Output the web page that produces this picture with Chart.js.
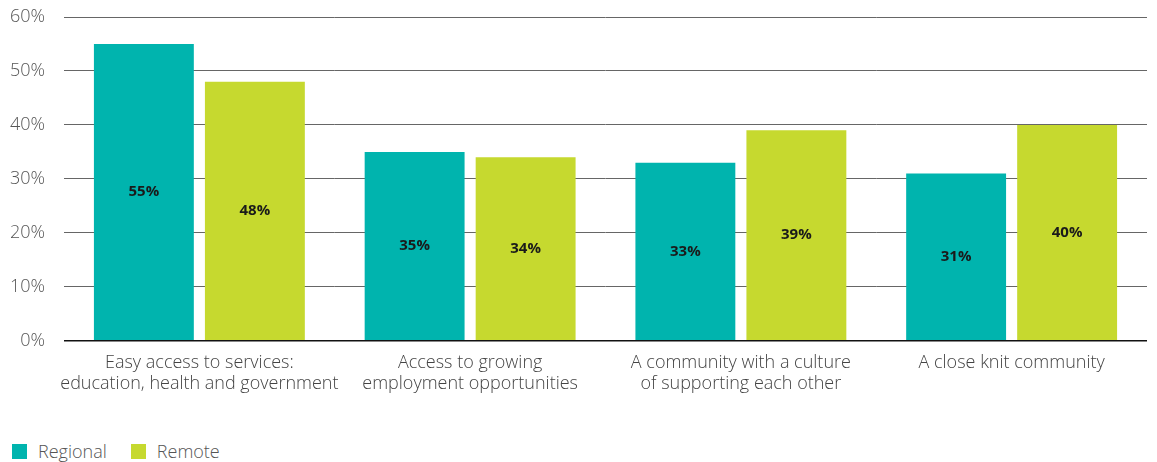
<!DOCTYPE html>
<html>
<head>
<meta charset="utf-8">
<script src="https://cdn.jsdelivr.net/npm/chart.js@4/dist/chart.umd.min.js"></script>
<style>
  html, body { margin: 0; padding: 0; background: #fff; }
  #wrap { width: 1157px; height: 462px; position: relative; font-family: 'Open Sans', sans-serif; }
  #box { position: absolute; left: 0; top: 0; width: 1157px; height: 406px; }
  #legend { position: absolute; left: 12px; top: 439px; display: flex; align-items: center; font-size: 18px; font-weight: 300; color: #555; }
  #legend span.sw { display: inline-block; width: 15px; height: 15px; margin-right: 11px; }
  #legend span.item { display: flex; align-items: center; margin-right: 24px; }
</style>
</head>
<body>
<div id="wrap">
  <div id="box"><canvas id="chart"></canvas></div>
  <div id="legend"></div>
</div>
<script>
const categories = [
  ["Easy access to services:", "education, health and government"],
  ["Access to growing", "employment opportunities"],
  ["A community with a culture", "of supporting each other"],
  ["A close knit community"]
];
const seriesNames = ["Regional", "Remote"];
const regional = [55, 35, 33, 31];
const remote = [48, 34, 39, 40];
const yTicks = [0, 10, 20, 30, 40, 50, 60];
const colors = ["#00b4ae", "#c6d92f"];

// writes the value in the middle of each bar
const barValues = {
  id: "barValues",
  afterDatasetsDraw(chart) {
    const ctx = chart.ctx;
    ctx.save();
    ctx.font = "bold 15px 'Open Sans'";
    ctx.fillStyle = "#1a1a1a";
    ctx.textAlign = "center";
    ctx.textBaseline = "middle";
    chart.data.datasets.forEach((ds, i) => {
      chart.getDatasetMeta(i).data.forEach((bar, j) => {
        const y = (bar.y + bar.base) / 2;
        ctx.fillText(ds.data[j] + "%", bar.x, y);
      });
    });
    ctx.restore();
  }
};

const ctx = document.getElementById("chart").getContext("2d");

const chart = new Chart(ctx, {
  type: "bar",
  data: {
    labels: categories,
    datasets: [
      { label: seriesNames[0], data: regional, backgroundColor: colors[0] },
      { label: seriesNames[1], data: remote, backgroundColor: colors[1] }
    ]
  },
  options: {
    responsive: true,
    maintainAspectRatio: false,
    animation: false,
    layout: { padding: { top: 0, right: 10, left: 10, bottom: 8 } },
    datasets: {
      bar: { categoryPercentage: 0.82, barPercentage: 0.9 }
    },
    scales: {
      x: {
        grid: { display: false },
        border: { display: false },
        // long labels may hang past the plot edges; don't shrink the plot for them
        afterFit(scale) {
          scale.paddingLeft = 0;
          scale.paddingRight = 0;
        },
        ticks: {
          color: "#444",
          padding: 3,
          maxRotation: 0,
          minRotation: 0,
          autoSkip: false,
          font: { family: "'Open Sans'", size: 18, weight: 300 }
        }
      },
      y: {
        min: 0,
        max: 60,
        afterBuildTicks(axis) {
          axis.ticks = yTicks.map(v => ({ value: v }));
        },
        afterFit(scale) {
          scale.width = 54;
          scale.paddingTop = 17;
          scale.paddingBottom = 0;
        },
        grid: {
          drawTicks: false,
          color: c => c.tick && c.tick.value === 0 ? "#111" : "#666",
          lineWidth: c => c.tick && c.tick.value === 0 ? 1.5 : 1
        },
        border: { display: false },
        ticks: {
          color: "#555",
          padding: 19,
          font: { family: "'Open Sans'", size: 18, weight: 300 },
          callback: v => v + "%"
        }
      }
    },
    plugins: {
      tooltip: { enabled: false },
      legend: { display: false }
    }
  },
  plugins: [barValues]
});

// legend below the chart
const legend = document.getElementById("legend");
chart.data.datasets.forEach(ds => {
  const item = document.createElement("span");
  item.className = "item";
  const sw = document.createElement("span");
  sw.className = "sw";
  sw.style.background = ds.backgroundColor;
  item.appendChild(sw);
  item.appendChild(document.createTextNode(ds.label));
  legend.appendChild(item);
});
</script>
</body>
</html>
